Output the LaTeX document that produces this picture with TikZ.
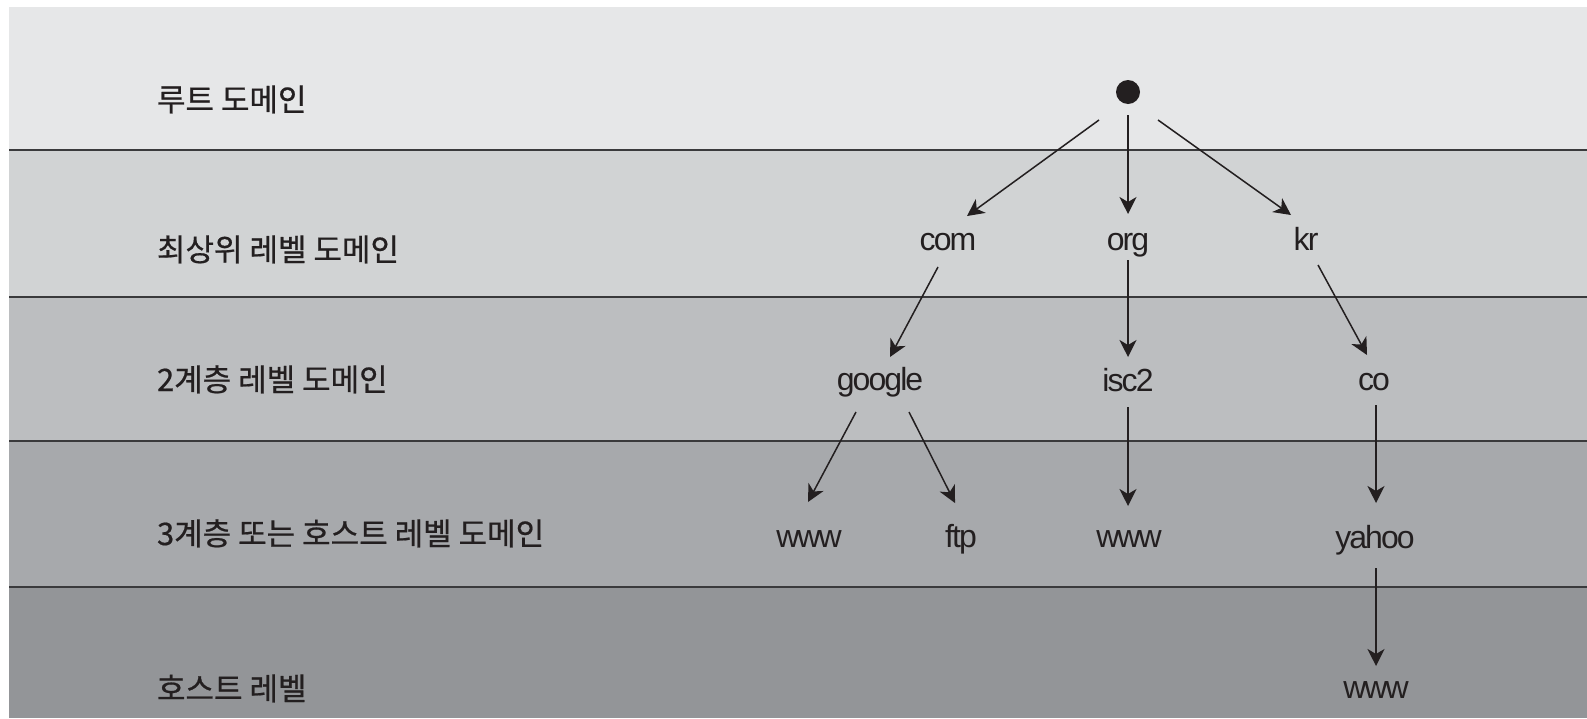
\documentclass[tikz,border=0pt]{standalone}
\usepackage{fontspec}
\setmainfont{Noto Sans CJK KR}
\newfontfamily\korfont[FakeBold=0.6]{Noto Sans CJK KR}
\newfontfamily\latfont[LetterSpace=-6]{Liberation Sans}
\usetikzlibrary{arrows.meta}
\definecolor{bandA}{HTML}{E6E7E8}
\definecolor{bandB}{HTML}{D1D3D4}
\definecolor{bandC}{HTML}{BCBEC0}
\definecolor{bandD}{HTML}{A7A9AC}
\definecolor{bandE}{HTML}{939598}
\definecolor{ink}{HTML}{231F20}
\definecolor{sepline}{HTML}{3A3A3C}
\tikzset{
  kor/.style={anchor=base west, inner sep=0pt, outer sep=0pt, text=ink, font=\korfont\fontsize{31}{34}\selectfont},
  lab/.style={anchor=base, inner sep=0pt, outer sep=0pt, text=ink, text height=17pt, text depth=0pt, font=\latfont\fontsize{32}{36}\selectfont},
  arr/.style={draw=ink, line width=1.5pt, -{Stealth[length=17pt,width=17pt,inset=5pt]}},
  sep/.style={draw=sepline, line width=2pt}
}
\begin{document}
\begin{tikzpicture}[x=1pt,y=-1pt]
\useasboundingbox (0,0) rectangle (1587,718);
\fill[white] (0,0) rectangle (1587,718);
\fill[bandA] (9,7) rectangle (1587,149.5);
\fill[bandB] (9,149.5) rectangle (1587,296.7);
\fill[bandC] (9,296.7) rectangle (1587,440.5);
\fill[bandD] (9,440.5) rectangle (1587,586.7);
\fill[bandE] (9,586.7) rectangle (1587,718);
\draw[sep] (9,149.5) -- (1587,149.5);
\draw[sep] (9,296.7) -- (1587,296.7);
\draw[sep] (9,440.5) -- (1587,440.5);
\draw[sep] (9,586.7) -- (1587,586.7);

% level labels
\node[kor] (l0) at (157,111) {루트 도메인};
\node[kor] (l1) at (157,261) {최상위 레벨 도메인};
\node[kor] (l2) at (157,391) {2계층 레벨 도메인};
\node[kor] (l3) at (157,545) {3계층 또는 호스트 레벨 도메인};
\node[kor] (l4) at (157,700) {호스트 레벨};

% tree
\node[circle, fill=ink, minimum size=24pt, inner sep=0pt] (root) at (1128,92) {};
\node[lab] (com) at (948,250) {com};
\node[lab] (org) at (1128,250) {org};
\node[lab] (kr) at (1306,250) {kr};
\node[lab] (google) at (880,390) {google};
\node[lab] (isc) at (1128,391) {isc2};
\node[lab] (co) at (1374,390) {co};
\node[lab] (wwwa) at (809,547) {www};
\node[lab] (ftp) at (961,547) {ftp};
\node[lab] (wwwb) at (1129,547) {www};
\node[lab] (yahoo) at (1375,548) {yahoo};
\node[lab] (wwwc) at (1376,698) {www};

\draw[arr] ([shift={(-29,28)}]root.center) -- ([shift={(19,-17)}]com.north);
\draw[arr] ([shift={(0,23)}]root.center) -- ([shift={(0,-19)}]org.north);
\draw[arr] ([shift={(30,28)}]root.center) -- ([shift={(-15,-18)}]kr.north);
\draw[arr] ([shift={(-10,17)}]com.south) -- ([shift={(10,-16)}]google.north);
\draw[arr] ([shift={(0,10)}]org.south) -- ([shift={(0,-17)}]isc.north);
\draw[arr] ([shift={(12,15)}]kr.south) -- ([shift={(-7,-18)}]co.north);
\draw[arr] ([shift={(-24,22)}]google.south) -- ([shift={(-1,-28)}]wwwa.north);
\draw[arr] ([shift={(29,22)}]google.south) -- ([shift={(-6,-27)}]ftp.north);
\draw[arr] ([shift={(0,16)}]isc.south) -- ([shift={(-1,-24)}]wwwb.north);
\draw[arr] ([shift={(2,15)}]co.south) -- ([shift={(1,-28)}]yahoo.north);
\draw[arr] ([shift={(1,20)}]yahoo.south) -- ([shift={(0,-15)}]wwwc.north);
\end{tikzpicture}
\end{document}
